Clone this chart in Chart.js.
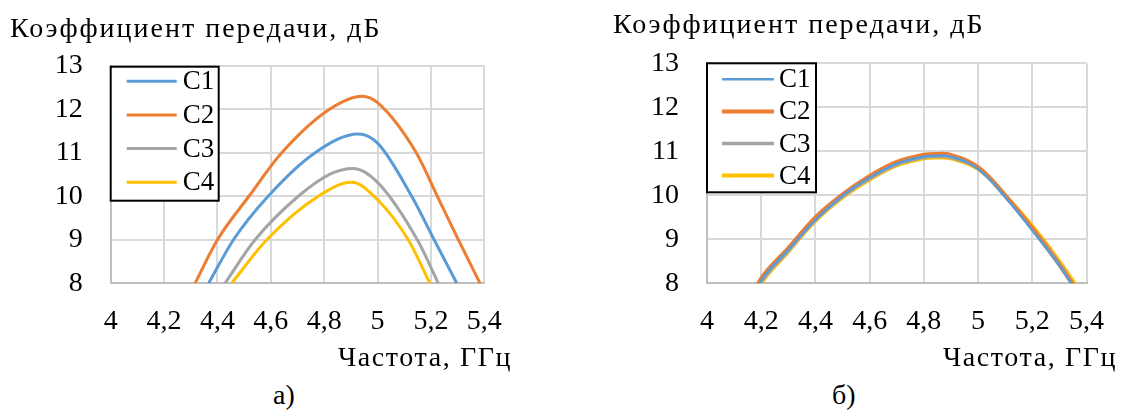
<!DOCTYPE html>
<html>
<head>
<meta charset="utf-8">
<script src="https://cdn.jsdelivr.net/npm/chart.js@4.4.1/dist/chart.umd.min.js"></script>
<style>
body { margin: 0; background: #fff; width: 1126px; height: 412px; position: relative; overflow: hidden;
       font-family: "Liberation Serif", "Times New Roman", "DejaVu Serif", serif; }
.box { position: absolute; }
.txt { position: absolute; font-size: 28px; line-height: 28px; white-space: nowrap; color: #000; }
.ttl { letter-spacing: 2px; }
.axt { letter-spacing: 1.6px; }
</style>
</head>
<body>
<div class="box" style="left:0;top:0"><canvas id="chartA" width="563" height="345"></canvas></div>
<div class="box" style="left:563px;top:0"><canvas id="chartB" width="563" height="345"></canvas></div>
<div class="txt ttl" style="left:10px;top:14px">Коэффициент передачи, дБ</div>
<div class="txt ttl" style="left:613px;top:10px">Коэффициент передачи, дБ</div>
<div class="txt axt" style="left:338px;top:343px">Частота, ГГц</div>
<div class="txt axt" style="left:943px;top:343px">Частота, ГГц</div>
<div class="txt" style="left:273px;top:381px">а)</div>
<div class="txt" style="left:832px;top:381px">б)</div>
<script>
const FONT = '"Liberation Serif", "Times New Roman", "DejaVu Serif", serif';

// График а): частота, ГГц и коэффициент передачи, дБ для каждой кривой
const fC1A = [4.367, 4.46, 4.59, 4.766, 4.928, 5.0, 5.128, 5.212, 5.297];
const vC1A = [8, 9, 10, 11, 11.43, 11.22, 10, 9, 8];
const fC2A = [4.316, 4.40, 4.518, 4.641, 4.82, 4.943, 5.0, 5.145, 5.224, 5.303, 5.384];
const vC2A = [8, 9, 10, 11, 12, 12.3, 12.15, 11, 10, 9, 8];
const fC3A = [4.428, 4.541, 4.703, 4.822, 4.909, 5.0, 5.149, 5.228];
const vC3A = [8, 9, 10, 10.51, 10.64, 10.32, 9, 8];
const fC4A = [4.453, 4.585, 4.778, 4.903, 5.0, 5.115, 5.196];
const vC4A = [8, 9, 10, 10.32, 9.92, 9, 8];

// График б)
const freqB = [4.1, 4.2, 4.3, 4.4, 4.5, 4.6, 4.7, 4.8, 4.85, 4.9, 5.0, 5.1, 5.2, 5.3, 5.4];
const c1B = [6.85, 8.06, 8.76, 9.44, 9.99, 10.4, 10.72, 10.88, 10.9, 10.88, 10.6, 9.96, 9.2, 8.4, 7.45];
const c2B = [6.9, 8.11, 8.8, 9.5, 10.02, 10.44, 10.76, 10.92, 10.94, 10.92, 10.64, 10.0, 9.25, 8.42, 7.5];
const c3B = [6.82, 8.03, 8.74, 9.44, 9.97, 10.38, 10.7, 10.86, 10.88, 10.86, 10.61, 9.98, 9.25, 8.45, 7.5];
const c4B = [6.8, 8.0, 8.72, 9.42, 9.95, 10.36, 10.68, 10.84, 10.86, 10.84, 10.6, 10.0, 9.3, 8.5, 7.6];

const labels = ['C1', 'C2', 'C3', 'C4'];
const colors = ['#5B9BD5', '#ED7D31', '#A5A5A5', '#FFC000'];
const yTicks = [8, 13];
const xTicks = [4, 5.4];

Chart.defaults.color = '#000';
Chart.defaults.font.family = FONT;

// Легенда в рамке внутри области графика
const boxLegend = {
    id: 'boxLegend',
    afterDraw(chart, args, o) {
        const ctx = chart.ctx;
        const a = chart.chartArea;
        const x = a.left + o.dx, y = a.top + o.dy;
        ctx.save();
        ctx.fillStyle = '#fff';
        ctx.fillRect(x, y, o.w, o.h);
        ctx.lineWidth = 2;
        ctx.strokeStyle = '#000';
        ctx.strokeRect(x, y, o.w, o.h);
        ctx.font = '27px ' + FONT;
        ctx.textBaseline = 'middle';
        chart.data.datasets.forEach((ds, i) => {
            const cy = y + o.first + i * o.step;
            ctx.strokeStyle = ds.borderColor;
            ctx.lineWidth = ds.borderWidth;
            ctx.beginPath();
            ctx.moveTo(x + o.lineX, cy);
            ctx.lineTo(x + o.lineX + o.lineLen, cy);
            ctx.stroke();
            ctx.fillStyle = '#000';
            ctx.fillText(ds.label, x + o.textX, cy + 1);
        });
        ctx.restore();
    }
};

function makeSets(pairs, widths, mode) {
    return pairs.map(([freq, vals], i) => ({
        label: labels[i],
        data: freq.map((f, j) => ({ x: f, y: vals[j] })),
        borderColor: colors[i],
        borderWidth: widths[i],
        pointRadius: 0,
        tension: 0.4,
        cubicInterpolationMode: mode,
        clip: 0
    }));
}

function makeOptions(left, right, top, legend) {
    return {
        responsive: false,
        animation: false,
        layout: { padding: { left: 0, right: right, top: top, bottom: 0 } },
        scales: {
            x: {
                type: 'linear',
                min: xTicks[0], max: xTicks[1],
                afterFit: s => { s.height = 345 - 283.3; },
                ticks: {
                    stepSize: 0.2,
                    padding: 22,
                    font: { size: 28 },
                    callback: v => String(Number(v.toFixed(1))).replace('.', ',')
                },
                grid: { color: '#D9D9D9', lineWidth: 2, drawTicks: false },
                border: { color: '#BFBFBF', width: 2 }
            },
            y: {
                min: yTicks[0], max: yTicks[1],
                afterFit: s => { s.width = left; },
                ticks: { stepSize: 1, padding: 28, font: { size: 28 } },
                grid: { color: '#D9D9D9', lineWidth: 2, drawTicks: false },
                border: { color: '#BFBFBF', width: 2 }
            }
        },
        plugins: {
            legend: { display: false },
            tooltip: { enabled: false },
            boxLegend: legend
        }
    };
}

new Chart(document.getElementById('chartA'), {
    type: 'line',
    data: { datasets: makeSets([[fC1A, vC1A], [fC2A, vC2A], [fC3A, vC3A], [fC4A, vC4A]], [3, 3, 3, 3], 'monotone') },
    options: makeOptions(110.7, 563 - 484.3, 65.7,
        { dx: 0, dy: 1, w: 108, h: 134, first: 14.5, step: 33.7, lineX: 16, lineLen: 50, textX: 72 }),
    plugins: [boxLegend]
});

new Chart(document.getElementById('chartB'), {
    type: 'line',
    data: { datasets: makeSets([[freqB, c1B], [freqB, c2B], [freqB, c3B], [freqB, c4B]], [2.5, 4, 3.5, 4], 'default') },
    options: makeOptions(144, 563 - 527, 63.3,
        { dx: 0, dy: 0, w: 109, h: 129, first: 16, step: 32.1, lineX: 15, lineLen: 52, textX: 72 }),
    plugins: [boxLegend]
});
</script>
</body>
</html>
